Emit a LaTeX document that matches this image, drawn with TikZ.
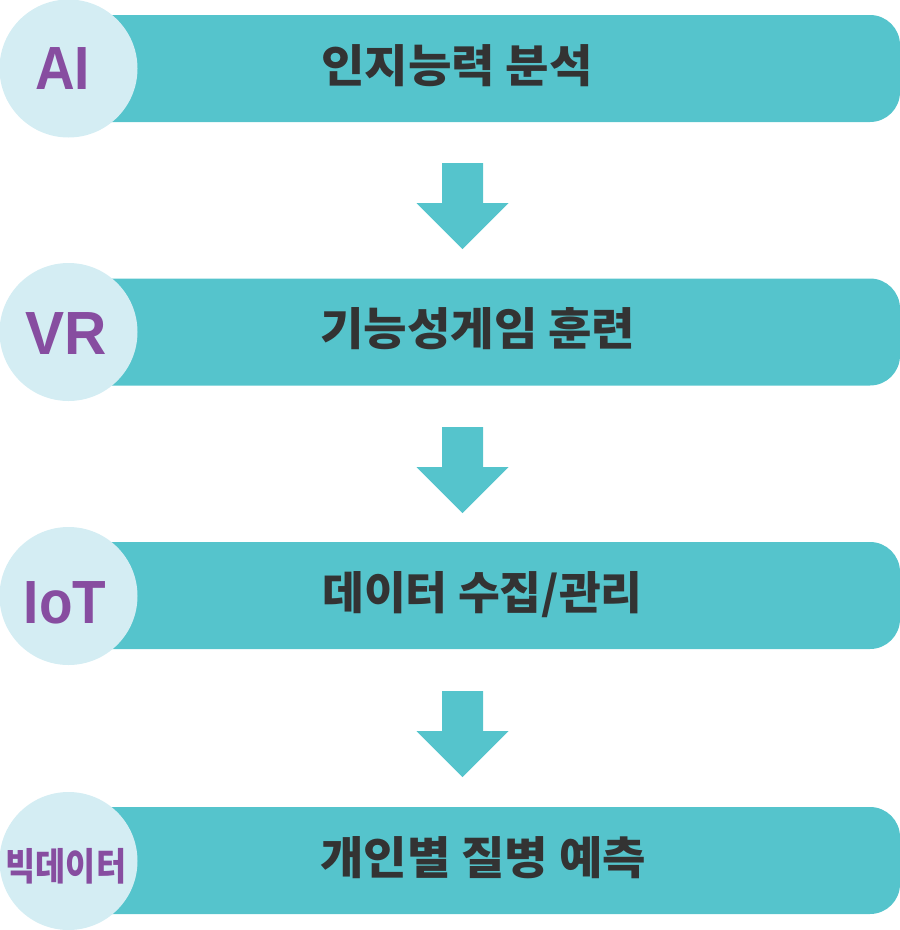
\documentclass[tikz,border=0pt]{standalone}
\usepackage{fontspec}
\usepackage{graphicx}
\setmainfont{Liberation Sans}
\newfontfamily\krfont{Noto Sans CJK KR}
\definecolor{barteal}{HTML}{55C4CC}
\definecolor{lightc}{HTML}{D4EDF3}
\definecolor{purp}{HTML}{874DA0}
\definecolor{darktxt}{HTML}{333333}
\newcommand{\widekr}[2][1.05]{\scalebox{#1}[1]{#2}}
\tikzset{
  barbox/.style={fill=barteal, draw=none, rounded corners=30pt, minimum width=840pt, minimum height=107pt, inner sep=0pt},
  circbox/.style={circle, fill=lightc, draw=none, minimum size=138pt, inner sep=0pt},
  bartext/.style={anchor=base west, inner sep=0pt, text=darktxt, font=\krfont\bfseries\fontsize{45pt}{45pt}\selectfont},
  circtext/.style={anchor=base, inner sep=0pt, text=purp, font=\bfseries\fontsize{61pt}{61pt}\selectfont},
  circkr/.style={inner sep=0pt, text=purp, font=\krfont\bfseries\fontsize{38pt}{38pt}\selectfont},
  arrowfill/.style={fill=barteal, draw=none},
  pics/downarrow/.style={code={
    \fill[arrowfill] (-20.5,0) -- (20.5,0) -- (20.5,40) -- (46,40) -- (0,86) -- (-46,40) -- (-20.5,40) -- cycle;
  }}
}
\begin{document}
\begin{tikzpicture}[x=1pt,y=-1pt]
\useasboundingbox (0,0) rectangle (900,930);
% bars
\node[barbox] (bar1) at (480,68.5) {};
\node[barbox] (bar2) at (480,332) {};
\node[barbox] (bar3) at (480,595.5) {};
\node[barbox] (bar4) at (480,860.5) {};
% circles
\node[circbox] (c1) at (68.5,68.5) {};
\node[circbox] (c2) at (68.5,332) {};
\node[circbox] (c3) at (68.5,596) {};
\node[circbox] (c4) at (68.5,861) {};
% circle labels
\node[circtext] (l1) at (62.5,89) {\scalebox{0.9}[1]{AI}};
\node[circtext] (l2) at (66,354) {\scalebox{0.96}[1]{VR}};
\node[circtext] (l3) at (65,623) {\scalebox{0.9}[1]{IoT}};
\node[circkr] (l4) at (66,866) {\scalebox{0.86}[1]{빅데이터}};
% bar texts
\node[bartext] (t1) at (321,82) {\widekr{인지능력 분석}};
\node[bartext] (t2) at (320,345.5) {\widekr{기능성게임 훈련}};
\node[bartext] (t3) at (322,609) {\widekr[1.01]{데이터 수집/관리}};
\node[bartext] (t4) at (320,874) {\widekr{개인별 질병 예측}};
% arrows
\path (462.5,163) pic {downarrow};
\path (462.5,427) pic {downarrow};
\path (462.5,691) pic {downarrow};
\end{tikzpicture}
\end{document}
